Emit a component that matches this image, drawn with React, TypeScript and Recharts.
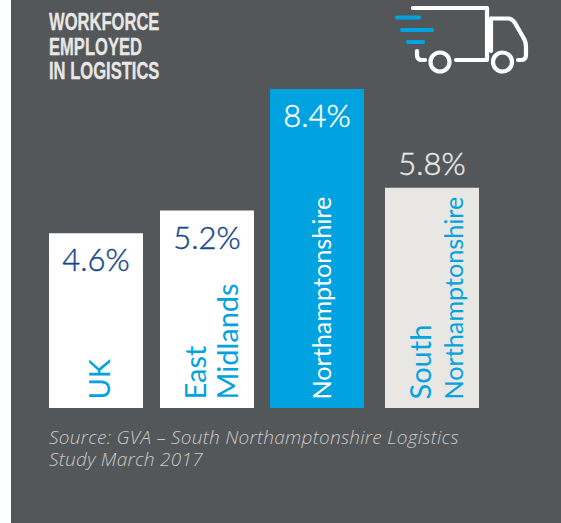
import { BarChart, Bar, XAxis, YAxis, Rectangle } from 'recharts';

const regions = ['UK', 'East Midlands', 'Northamptonshire', 'South Northamptonshire'];
const workforceShare = [4.6, 5.2, 8.4, 5.8];
const regionLines = [['UK'], ['East', 'Midlands'], ['Northamptonshire'], ['South', 'Northamptonshire']];
const titleLines = ['WORKFORCE', 'EMPLOYED', 'IN LOGISTICS'];
const sourceLines = ['Source: GVA – South Northamptonshire Logistics', 'Study March 2017'];

const rows = regions.map((region, i) => ({ region, share: workforceShare[i], lines: regionLines[i] }));

const BLUE = '#00a3e0';
const NAVY = '#174a8b';
const PANEL = '#54575a';
const STONE = '#e9e7e4';
const FONT = 'Lato, "Open Sans", sans-serif';

// the printed columns are not quite evenly spaced, so each one gets a small sideways shift
const columnShift = [0, 0, -1, 3];
const columnFill = ['#ffffff', '#ffffff', BLUE, STONE];
const shareColor = [NAVY, NAVY, '#ffffff', STONE];

function Column(props: any) {
  const { x, y, width, height, index, payload } = props;
  const left = x + columnShift[index];
  const cx = left + width / 2;
  const bottom = y + height;
  const outside = index === 3;
  const nameColor = index === 2 ? '#ffffff' : BLUE;
  const lines: string[] = payload.lines;
  // baselines of the rotated names, measured from the column's left edge
  const offsets = lines.length === 1 ? [61] : [46, 77.5];
  return (
    <g>
      <Rectangle x={left} y={y} width={width} height={height} fill={columnFill[index]} />
      <text
        x={cx}
        y={outside ? y - 12.5 : y + 38}
        textAnchor="middle"
        fontFamily={FONT}
        fontWeight={300}
        fontSize={31}
        fill={shareColor[index]}
        stroke={shareColor[index]}
        strokeWidth={0.45}
      >
        {payload.share.toFixed(1)}%
      </text>
      {lines.map((line, i) => (
        <text
          key={line}
          transform={`translate(${left + offsets[i]} ${bottom - 8.5}) rotate(-90)`}
          fontFamily={FONT}
          fontWeight={400}
          fontSize={line === 'Northamptonshire' ? 25.2 : 29}
          fill={nameColor}
        >
          {line}
        </text>
      ))}
    </g>
  );
}

function TruckIcon() {
  return (
    <svg width={181} height={90} style={{ position: 'absolute', left: 380, top: 0 }} fill="none" strokeLinecap="round" strokeLinejoin="round">
      <g stroke="#ffffff" strokeWidth={4.2}>
        <path d="M33 8 H107 V60 H76" />
        <path d="M37 51 V55 Q37 60 42 60 H45" />
        <circle cx={60} cy={62} r={9.5} />
        <circle cx={122.5} cy={62} r={9.5} />
        <path d="M111 18.5 H128 Q132 18.5 135 23 L143 37 Q146 41 146 47 V55 Q146 60 141 60 H138" />
        <path d="M111 18.5 V51" />
      </g>
      <g stroke={BLUE} strokeWidth={4.2}>
        <path d="M17 17.5 H39" />
        <path d="M22 30 H52" />
        <path d="M28 42 H43" />
      </g>
    </svg>
  );
}

export default function App() {
  return (
    <div style={{ position: 'absolute', left: 0, top: 0, width: 561, height: 523, background: '#ffffff', overflow: 'hidden' }}>
      <div style={{ position: 'absolute', left: 11, top: 0, right: 0, bottom: 0, background: PANEL }} />
      <div
        style={{
          position: 'absolute',
          left: 49,
          top: 10,
          fontFamily: '"Liberation Sans", sans-serif',
          fontWeight: 700,
          fontSize: 24,
          lineHeight: '24.5px',
          color: STONE,
          whiteSpace: 'nowrap',
          transform: 'scaleX(0.69)',
          transformOrigin: 'left top',
          WebkitTextStroke: '0.3px ' + STONE,
        }}
      >
        {titleLines.map((line) => (
          <div key={line}>{line}</div>
        ))}
      </div>
      <TruckIcon />
      <div style={{ position: 'absolute', left: 40, top: 89 }}>
        <BarChart
          width={444}
          height={319}
          data={rows}
          margin={{ top: 0, right: 0, bottom: 0, left: 0 }}
          barSize={94}
        >
          <XAxis dataKey="region" hide />
          <YAxis domain={[0, 8.4]} hide />
          <Bar dataKey="share" shape={Column} isAnimationActive={false} />
        </BarChart>
      </div>
      <div
        style={{
          position: 'absolute',
          left: 49,
          top: 426,
          fontFamily: '"Open Sans", sans-serif',
          fontStyle: 'italic',
          fontWeight: 300,
          fontSize: 19,
          letterSpacing: 0.27,
          lineHeight: '22px',
          color: '#c9c9c7',
          whiteSpace: 'nowrap',
        }}
      >
        {sourceLines.map((line) => (
          <div key={line}>{line}</div>
        ))}
      </div>
    </div>
  );
}
